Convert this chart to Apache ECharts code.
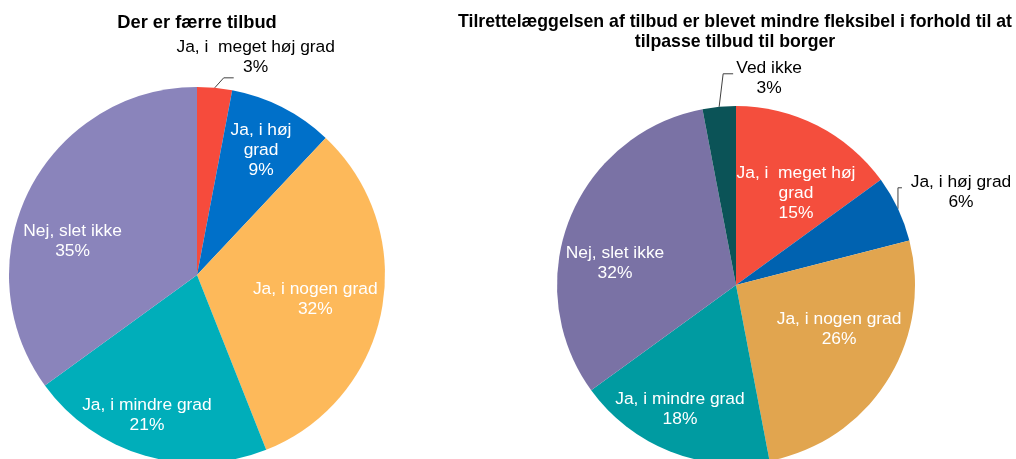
<!DOCTYPE html>
<html>
<head>
<meta charset="utf-8">
<script src="https://cdn.jsdelivr.net/npm/echarts@6/dist/echarts.min.js"></script>
<style>
html,body{margin:0;padding:0;background:#fff;}
#chart{width:1016px;height:459px;}
</style>
</head>
<body>
<div id="chart"></div>
<script>
// ---- Data ----
const leftTitle = 'Der er færre tilbud';
const leftCategories = ['Ja, i  meget høj grad', 'Ja, i høj\ngrad', 'Ja, i nogen grad', 'Ja, i mindre grad', 'Nej, slet ikke'];
const leftValues = [3, 9, 32, 21, 35];

const rightTitle = 'Tilrettelæggelsen af tilbud er blevet mindre fleksibel i forhold til at\ntilpasse tilbud til borger';
const rightCategories = ['Ja, i  meget høj\ngrad', 'Ja, i høj grad', 'Ja, i nogen grad', 'Ja, i mindre grad', 'Nej, slet ikke', 'Ved ikke'];
const rightValues = [15, 6, 26, 18, 32, 3];

// ---- Styles / layout (not data) ----
const leftColors = ['#F64B3C', '#0070C9', '#FDB95A', '#00AEBA', '#8A84BB'];
const rightColors = ['#F44E3D', '#0062B0', '#E1A54F', '#009BA1', '#7A72A5', '#0B5357'];
const leftOutside = [true, false, false, false, false];
const rightOutside = [false, true, false, false, false, true];
// inside label nudges [dx, dy]
const leftNudge = [[0, 0], [20, -38], [23, 6], [-23, 47], [-38, 10]];
const rightNudge = [[18, -9], [0, 0], [25, -5], [-22, 38], [-35, 12], [0, 0]];
// outside label: [labelDx, labelDy, elbowDx, elbowDy, endDx] relative to slice edge point
const leftOut = [[41, -31, 9, -10, 19], null, null, null, null];
const rightOut = [null, [63, -17, 0, -21, 4], null, null, null, [50, -29, 4, -33, 14]];

const FONT = '"Liberation Sans", Arial, sans-serif';

function buildData(cats, vals, colors, outside) {
  return cats.map((c, i) => ({
    name: c,
    value: vals[i],
    itemStyle: { color: colors[i] },
    label: outside[i]
      ? { position: 'outside', color: '#000' }
      : { position: 'inside', color: '#fff' }
  }));
}

function makeLayout(nudge, out) {
  return function (params) {
    const i = params.dataIndex;
    const o = out[i];
    if (o && params.labelLinePoints) {
      const s = params.labelLinePoints[0];
      return {
        x: s[0] + o[0],
        y: s[1] + o[1],
        align: 'center',
        verticalAlign: 'middle',
        labelLinePoints: [
          [s[0], s[1]],
          [s[0] + o[2], s[1] + o[3]],
          [s[0] + o[4], s[1] + o[3]]
        ]
      };
    }
    const n = nudge[i] || [0, 0];
    return { dx: n[0], dy: n[1] };
  };
}

function pieSeries(cats, vals, colors, outside, center, radius, nudge, out) {
  return {
    type: 'pie',
    center: center,
    radius: radius,
    startAngle: 90,
    clockwise: true,
    avoidLabelOverlap: false,
    animation: false,
    label: {
      show: true,
      fontFamily: FONT,
      fontSize: 17.4,
      lineHeight: 20,
      align: 'center',
      formatter: p => p.name + '\n' + p.value + '%'
    },
    labelLine: {
      show: true,
      length: 10,
      length2: 10,
      lineStyle: { color: '#404040', width: 1 }
    },
    emphasis: { disabled: true },
    itemStyle: { borderWidth: 0 },
    labelLayout: makeLayout(nudge, out),
    data: buildData(cats, vals, colors, outside)
  };
}

const chart = echarts.init(document.getElementById('chart'), null, { renderer: 'canvas' });
chart.setOption({
  backgroundColor: '#fff',
  animation: false,
  title: [
    {
      text: leftTitle,
      left: 197, top: 12, textAlign: 'center', padding: 0,
      textStyle: { fontFamily: FONT, fontSize: 18.3, fontWeight: 'bold', color: '#000', lineHeight: 21 }
    },
    {
      text: rightTitle,
      left: 735, top: 12, textAlign: 'center', padding: 0,
      textStyle: { fontFamily: FONT, fontSize: 17.7, fontWeight: 'bold', color: '#000', lineHeight: 20 }
    }
  ],
  series: [
    pieSeries(leftCategories, leftValues, leftColors, leftOutside, [197, 275], 188, leftNudge, leftOut),
    pieSeries(rightCategories, rightValues, rightColors, rightOutside, [736, 285], 179, rightNudge, rightOut)
  ]
});
</script>
</body>
</html>
